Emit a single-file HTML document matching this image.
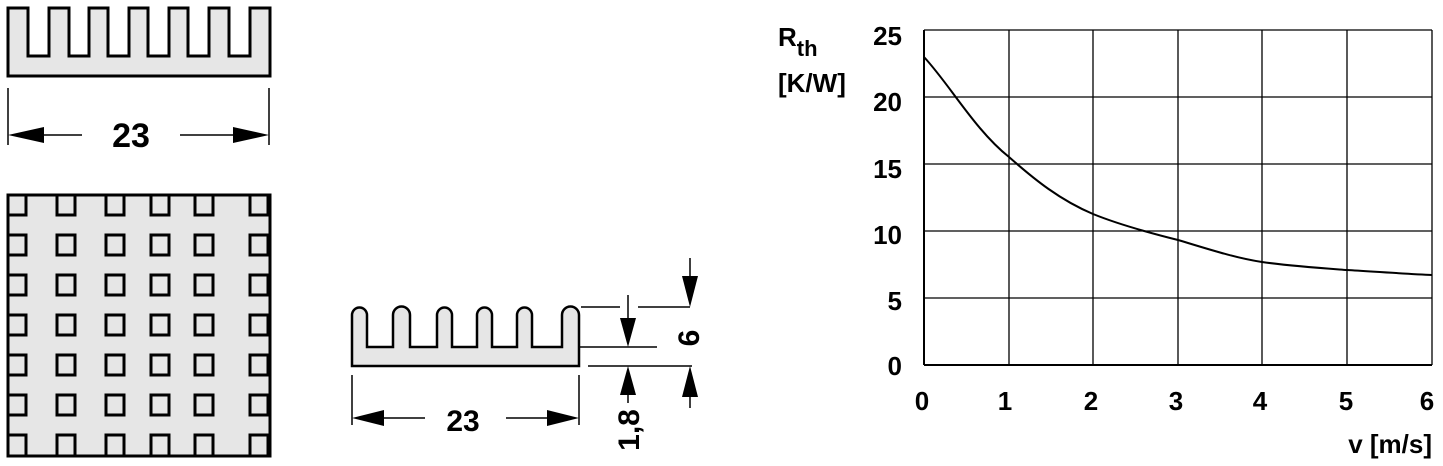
<!DOCTYPE html>
<html><head><meta charset="utf-8"><style>
html,body{margin:0;padding:0;background:#fff;}
svg{display:block;font-family:"Liberation Sans",sans-serif;font-weight:bold;}
</style></head><body>
<svg width="1443" height="466" viewBox="0 0 1443 466" xmlns="http://www.w3.org/2000/svg">
<!-- Top profile -->
<path d="M8,8 H28 V56 H49 V8 H69 V56 H89 V8 H108 V56 H129 V8 H148 V56 H169 V8 H188 V56 H209 V8 H229 V56 H250 V8 H270 V76 H8 Z" fill="#e6e6e6" stroke="#000" stroke-width="3"/>
<line x1="8" y1="88" x2="8" y2="145" stroke="#000" stroke-width="1.5"/>
<line x1="269" y1="88" x2="269" y2="145" stroke="#000" stroke-width="1.5"/>
<line x1="40" y1="135" x2="82" y2="135" stroke="#000" stroke-width="1.5"/>
<line x1="180" y1="135" x2="235" y2="135" stroke="#000" stroke-width="1.5"/>
<polygon points="8,135 44,127 44,143" fill="#000"/>
<polygon points="269,135 233,127 233,143" fill="#000"/>
<text x="131" y="147" font-size="34" text-anchor="middle">23</text>
<!-- Top view square -->
<rect x="8" y="195" width="262" height="261" fill="#e6e6e6" stroke="#000" stroke-width="3"/>
<g fill="none" stroke="#000" stroke-width="3">
<g id="col">
<rect x="8" y="195" width="18" height="20"/><rect x="8" y="235" width="18" height="20"/><rect x="8" y="275" width="18" height="20"/><rect x="8" y="315" width="18" height="20"/><rect x="8" y="355" width="18" height="20"/><rect x="8" y="395" width="18" height="20"/><rect x="8" y="435" width="18" height="21"/>
</g>
<use href="#col" x="49"/><use href="#col" x="98"/><use href="#col" x="143"/><use href="#col" x="187"/><use href="#col" x="242"/>
</g>
<!-- Side profile -->
<path d="M352,366 V315 A7.5,7.5 0 0 1 367,315 V347 H393 V315 A8.5,8.5 0 0 1 410,315 V347 H437 V315 A7.5,7.5 0 0 1 452,315 V347 H477 V315 A7.5,7.5 0 0 1 492,315 V347 H517 V315 A7.5,7.5 0 0 1 532,315 V347 H562 V315 A8.5,8.5 0 0 1 579,315 V366 Z" fill="#e6e6e6" stroke="#000" stroke-width="2.5"/>
<g stroke="#000" stroke-width="1.5">
<line x1="581" y1="307" x2="620" y2="307"/>
<line x1="638" y1="307" x2="690" y2="307"/>
<line x1="580" y1="347" x2="657" y2="347"/>
<line x1="588" y1="366" x2="692" y2="366"/>
<line x1="628" y1="295" x2="628" y2="330"/>
<line x1="628" y1="380" x2="628" y2="403"/>
<line x1="690" y1="258" x2="690" y2="290"/>
<line x1="690" y1="380" x2="690" y2="408"/>
<line x1="352" y1="375" x2="352" y2="425"/>
<line x1="579" y1="375" x2="579" y2="425"/>
<line x1="380" y1="418" x2="425" y2="418"/>
<line x1="506" y1="418" x2="550" y2="418"/>
</g>
<polygon points="628,347 620,318 636,318" fill="#000"/>
<polygon points="628,366 620,395 636,395" fill="#000"/>
<polygon points="690,307 682,276 698,276" fill="#000"/>
<polygon points="690,366 682,397 698,397" fill="#000"/>
<polygon points="352,418 384,410 384,426" fill="#000"/>
<polygon points="579,418 547,410 547,426" fill="#000"/>
<text x="463" y="431" font-size="30" text-anchor="middle">23</text>
<text transform="translate(699,338) rotate(-90)" font-size="30" text-anchor="middle">6</text>
<text transform="translate(639,430) rotate(-90)" font-size="30" text-anchor="middle">1,8</text>
<!-- Chart -->
<g stroke="#000" stroke-width="1.3" fill="none">
<line x1="924" y1="30" x2="1432" y2="30"/>
<line x1="924" y1="97" x2="1432" y2="97"/>
<line x1="924" y1="164" x2="1432" y2="164"/>
<line x1="924" y1="231" x2="1432" y2="231"/>
<line x1="924" y1="298" x2="1432" y2="298"/>
<line x1="924" y1="365" x2="1432" y2="365" stroke-width="2"/>
<line x1="924" y1="30" x2="924" y2="365" stroke-width="2"/>
<line x1="1009" y1="30" x2="1009" y2="365"/>
<line x1="1093" y1="30" x2="1093" y2="365"/>
<line x1="1178" y1="30" x2="1178" y2="365"/>
<line x1="1262" y1="30" x2="1262" y2="365"/>
<line x1="1347" y1="30" x2="1347" y2="365"/>
<line x1="1432" y1="30" x2="1432" y2="365"/>
<path d="M924,57 C950,85 975,130 1009,157 C1035,180 1060,200 1093,214 C1120,225 1150,233 1178,240 C1205,248 1235,258 1262,262 C1290,266 1320,268 1347,270 C1380,272 1410,274 1432,275" stroke-width="2"/>
</g>
<g font-size="26" text-anchor="end">
<text x="902" y="45">25</text>
<text x="902" y="111">20</text>
<text x="902" y="178">15</text>
<text x="902" y="244">10</text>
<text x="902" y="310">5</text>
<text x="902" y="375">0</text>
</g>
<g font-size="26" text-anchor="middle">
<text x="922" y="410">0</text>
<text x="1005" y="410">1</text>
<text x="1091" y="410">2</text>
<text x="1176" y="410">3</text>
<text x="1260" y="410">4</text>
<text x="1346" y="410">5</text>
<text x="1427" y="410">6</text>
</g>
<text x="1432" y="453" font-size="26" text-anchor="end">v [m/s]</text>
<text x="778" y="46" font-size="26">R<tspan font-size="22" dy="10">th</tspan></text>
<text x="778" y="92" font-size="26">[K/W]</text>
</svg>
</body></html>
